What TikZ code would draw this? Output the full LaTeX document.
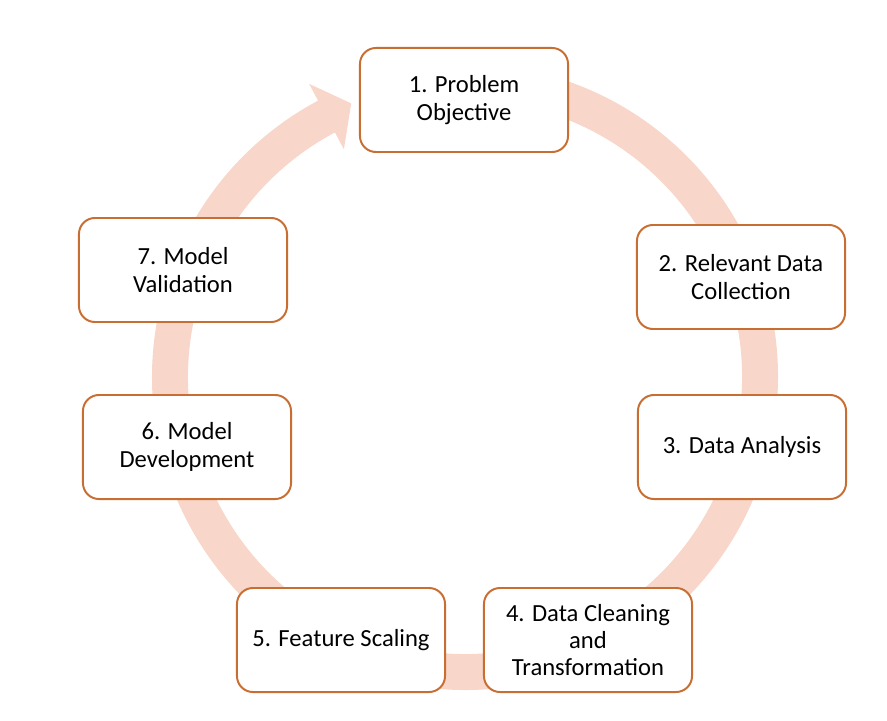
\documentclass[tikz,border=0pt]{standalone}
\usepackage{fontspec}
\setmainfont{Carlito}
\usetikzlibrary{calc}

\definecolor{borde}{RGB}{200,110,50}
\definecolor{anillo}{RGB}{248,214,202}

\begin{document}
\begin{tikzpicture}[x=0.025cm, y=0.025cm, align=center,
    caja/.style={draw=borde, line width=1.4pt, fill=white, rounded corners=0.4cm,
      minimum width=5.2cm, minimum height=2.6cm, inner sep=2pt,
      font=\fontsize{17.5}{19.5}\selectfont}]
    \useasboundingbox (0,0) rectangle (887,-721);

    % anillo con flecha
    \begin{scope}[shift={(465,-377)}]
      \fill[anillo] (85:313) arc[start angle=85, end angle=-242, radius=313]
        -- (118:332) -- ($(118:295)+(28:28)$) -- (118:258) -- (118:277)
        arc[start angle=-242, end angle=85, radius=277] -- cycle;
    \end{scope}

    \node [caja] (fase1) at (464,-100) {1. Problem\\ Objective};
    \node [caja] (fase2) at (741,-277) {2. Relevant Data\\ Collection};
    \node [caja] (fase3) at (742,-447) {3. Data Analysis};
    \node [caja] (fase4) at (588,-640) {4. Data Cleaning\\ and\\ Transformation};
    \node [caja] (fase5) at (341,-640) {5. Feature Scaling};
    \node [caja] (fase6) at (187,-447) {6. Model\\ Development};
    \node [caja] (fase7) at (183,-270) {7. Model\\ Validation};
  \end{tikzpicture}
\end{document}
